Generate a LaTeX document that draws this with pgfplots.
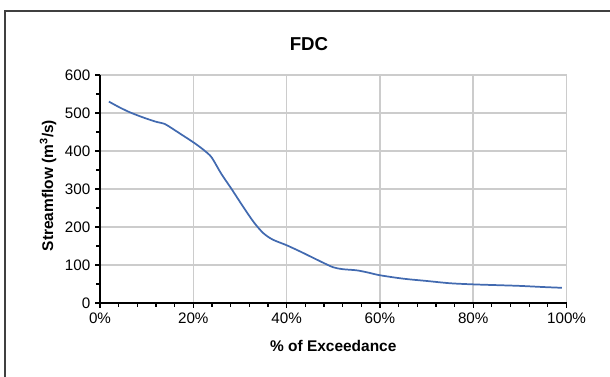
\documentclass[border=0pt]{standalone}
\usepackage{pgfplots}
\pgfplotsset{compat=1.18}
\usepackage{fontspec}
\setmainfont{Liberation Sans}
\definecolor{curve}{RGB}{66,106,176}
\definecolor{gridc}{RGB}{204,204,204}
\begin{document}
\begin{tikzpicture}
\useasboundingbox (0,0) rectangle (457.5pt,282.75pt);
\draw[black!75, line width=1.5pt] (3.75pt,0) -- (3.75pt,274.5pt) -- (457.5pt,274.5pt);
\begin{axis}[
  scale only axis,
  width=349.9pt, height=171pt,
  at={(75pt,55.5pt)}, anchor=south west,
  xmin=0, xmax=100, ymin=0, ymax=600,
  axis x line=bottom, axis y line=left,
  axis line style={black, line width=1.1pt, -},
  xtick={0,20,40,60,80,100},
  xticklabels={0\%,20\%,40\%,60\%,80\%,100\%},
  ytick={0,100,...,600},
  minor x tick num=4, minor y tick num=1,
  tick align=outside,
  major tick length=3.75pt, minor tick length=3pt,
  tick style={black, line width=0.9pt},
  grid=major,
  major grid style={gridc, line width=1.1pt},
  /pgf/number format/assume math mode=true,
  tick label style={font=\fontsize{11.4}{13}\selectfont},
  every axis title shift=0pt,
  title={\textbf{FDC}},
  title style={at={(0.448,1.1096)}, anchor=base, font=\fontsize{14}{16}\selectfont},
  xlabel={\textbf{\% of Exceedance}},
  xlabel style={at={(0.5,-0.2149)}, anchor=base, font=\fontsize{11.6}{13}\selectfont},
  ylabel={\textbf{Streamflow (m\textsuperscript{3}/s)}},
  ylabel style={at={(-0.1115,0.515)}, anchor=center, font=\fontsize{11.6}{13}\selectfont},
]
\addplot[curve, line width=1.3pt, smooth, tension=0.5] coordinates {
(1.9,530) (4,516) (6,504) (8,494) (10,485) (12,477) (13.9,471)
(15.5,459) (17.5,443) (20,423) (22,405) (23.6,388) (24.4,374)
(26,340) (28.2,300) (30.7,253) (33,212) (35,184) (37,167) (40,152)
(43,135) (45,123) (48,105) (50,94) (52,89) (55,86) (57.5,80) (60,73)
(65,64) (70,58) (75,52) (80,49) (85,47) (90,45) (95,42) (99,40)
};
\end{axis}
\end{tikzpicture}
\end{document}
